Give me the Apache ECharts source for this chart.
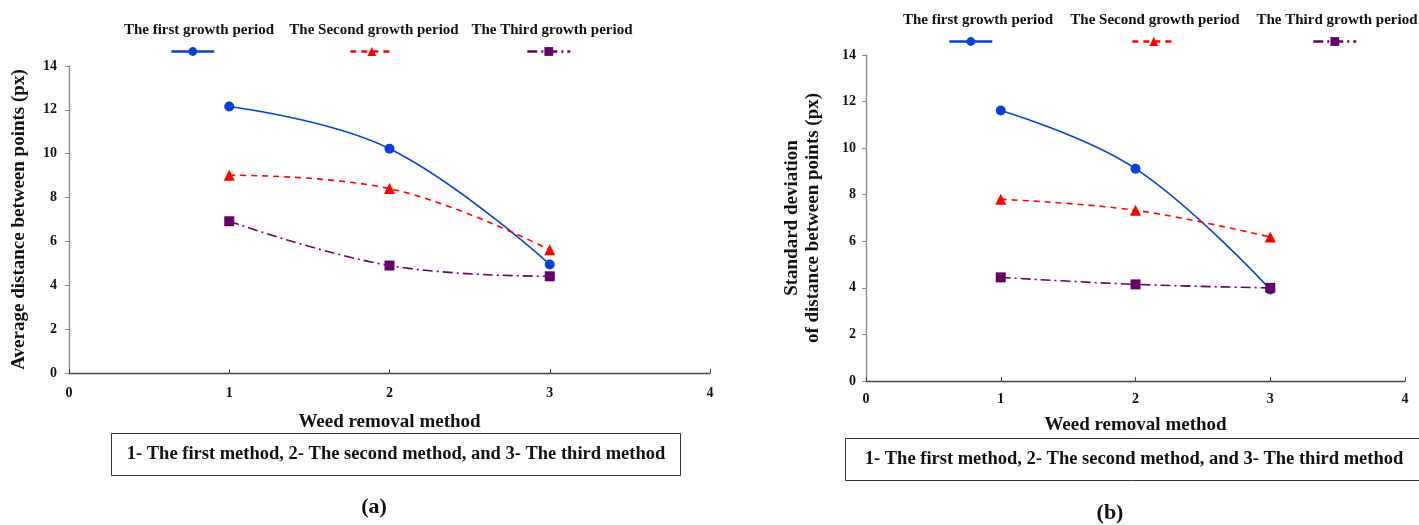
<!DOCTYPE html>
<html>
<head>
<meta charset="utf-8">
<script src="https://cdn.jsdelivr.net/npm/echarts@6/dist/echarts.min.js"></script>
<style>
  html, body { margin: 0; padding: 0; background: #fff; }
  #chart { width: 1419px; height: 525px; }
</style>
</head>
<body>
<div id="chart"></div>
<script>
// Weed removal methods on the x axis
const methods = [1, 2, 3];
const seriesNames = ['The first growth period', 'The Second growth period', 'The Third growth period'];

// (a) Average distance between points (px)
const avgFirst = [12.15, 10.23, 4.95];
const avgSecond = [9.02, 8.41, 5.62];
const avgThird = [6.92, 4.9, 4.41];

// (b) Standard deviation of distance between points (px)
const sdFirst = [11.62, 9.12, 3.93];
const sdSecond = [7.8, 7.33, 6.18];
const sdThird = [4.45, 4.15, 4.0];

const xTicks = [0, 1, 2, 3, 4];
const yTicks = [0, 2, 4, 6, 8, 10, 12, 14];

const SERIF = '"Liberation Serif", "Times New Roman", serif';
const colors = ['#0a3fd6', '#ff0000', '#660066'];
const lineTypes = ['solid', [6, 5], [10, 4, 2, 4]];
const symbols = ['circle', 'triangle', 'rect'];
const symbolSizes = [10, 11, 10];
const KEY_TEXT = '1- The first method, 2- The second method, and 3- The third method';

const pairs = (vals) => methods.map((m, i) => [m, vals[i]]);

function makeSeries(vals, k, gridIdx) {
  return {
    name: seriesNames[k],
    type: 'line',
    xAxisIndex: gridIdx,
    yAxisIndex: gridIdx,
    data: pairs(vals),
    smooth: 0.4,
    symbol: symbols[k],
    symbolSize: symbolSizes[k],
    showSymbol: true,
    lineStyle: { color: colors[k], width: 1.6, type: lineTypes[k] },
    itemStyle: { color: colors[k] },
    z: 3 + k
  };
}

function xAxisFor(gridIdx, margin, nameGap) {
  return {
    type: 'value', gridIndex: gridIdx, min: xTicks[0], max: xTicks[xTicks.length - 1], interval: 1,
    name: 'Weed removal method', nameLocation: 'middle', nameGap: nameGap,
    nameTextStyle: { fontFamily: SERIF, fontWeight: 'bold', fontSize: 19, color: '#111' },
    axisLine: { lineStyle: { color: '#444', width: 1.3 } },
    axisTick: { show: true, inside: true, length: 4, lineStyle: { color: '#444' } },
    axisLabel: { fontFamily: SERIF, fontWeight: 'bold', fontSize: 14, color: '#111', margin: margin },
    splitLine: { show: false }
  };
}

function yAxisFor(gridIdx, name, nameGap, margin, nameSize) {
  return {
    type: 'value', gridIndex: gridIdx, min: yTicks[0], max: yTicks[yTicks.length - 1], interval: 2,
    name: name, nameLocation: 'middle', nameGap: nameGap, nameRotate: 90,
    nameTextStyle: { fontFamily: SERIF, fontWeight: 'bold', fontSize: nameSize, color: '#111', lineHeight: 21 },
    axisLine: { show: true, lineStyle: { color: '#888', width: 1.3 } },
    axisTick: { show: true, inside: false, length: 4, lineStyle: { color: '#888' } },
    axisLabel: { fontFamily: SERIF, fontWeight: 'bold', fontSize: 14, color: '#111', margin: margin },
    splitLine: { show: false }
  };
}

// icon-only legend entries placed under each header label
function iconLegend(k, left, top) {
  return {
    data: [seriesNames[k]], left: left, top: top, padding: 0,
    itemWidth: 43, itemHeight: 11, itemGap: 0,
    formatter: () => '',
    textStyle: { fontSize: 1 },
    lineStyle: { width: 2.6 },
    selectedMode: false
  };
}

function label(txt, x, y, size) {
  return {
    type: 'text', x: x, y: y,
    style: { text: txt, align: 'center', verticalAlign: 'middle', font: 'bold ' + size + 'px ' + SERIF, fill: '#111' }
  };
}

const chart = echarts.init(document.getElementById('chart'), null, { renderer: 'canvas' });

const option = {
  backgroundColor: '#fff',
  animation: false,
  grid: [
    { left: 69, right: 709, top: 66, bottom: 152 },
    { left: 866, right: 14, top: 55, bottom: 144 }
  ],
  xAxis: [xAxisFor(0, 13, 40), xAxisFor(1, 11, 35)],
  yAxis: [
    yAxisFor(0, 'Average distance between points (px)', 39, 12, 19),
    yAxisFor(1, 'Standard deviation\nof distance between points (px)', 42, 10, 19)
  ],
  legend: [
    iconLegend(0, 170, 46), iconLegend(1, 349, 46), iconLegend(2, 526, 46),
    iconLegend(0, 948, 36), iconLegend(1, 1131, 36), iconLegend(2, 1312, 36)
  ],
  graphic: [
    // header labels above the legend icons
    label(seriesNames[0], 199, 30, 15),
    label(seriesNames[1], 374, 30, 15),
    label(seriesNames[2], 552, 30, 15),
    label(seriesNames[0], 978, 20, 15),
    label(seriesNames[1], 1155, 20, 15),
    label(seriesNames[2], 1337, 20, 15),
    // method key boxes
    { type: 'rect', shape: { x: 111.5, y: 433.5, width: 569, height: 42 }, style: { fill: '#fff', stroke: '#333', lineWidth: 1 } },
    label(KEY_TEXT, 396, 454, 18.5),
    { type: 'rect', shape: { x: 845.5, y: 438.5, width: 580, height: 42 }, style: { fill: '#fff', stroke: '#333', lineWidth: 1 } },
    label(KEY_TEXT, 1134, 459, 18.5),
    // panel captions
    label('(a)', 374, 507, 22),
    label('(b)', 1110, 513, 22)
  ],
  series: [
    makeSeries(avgFirst, 0, 0), makeSeries(avgSecond, 1, 0), makeSeries(avgThird, 2, 0),
    makeSeries(sdFirst, 0, 1), makeSeries(sdSecond, 1, 1), makeSeries(sdThird, 2, 1)
  ]
};

chart.setOption(option);
</script>
</body>
</html>
